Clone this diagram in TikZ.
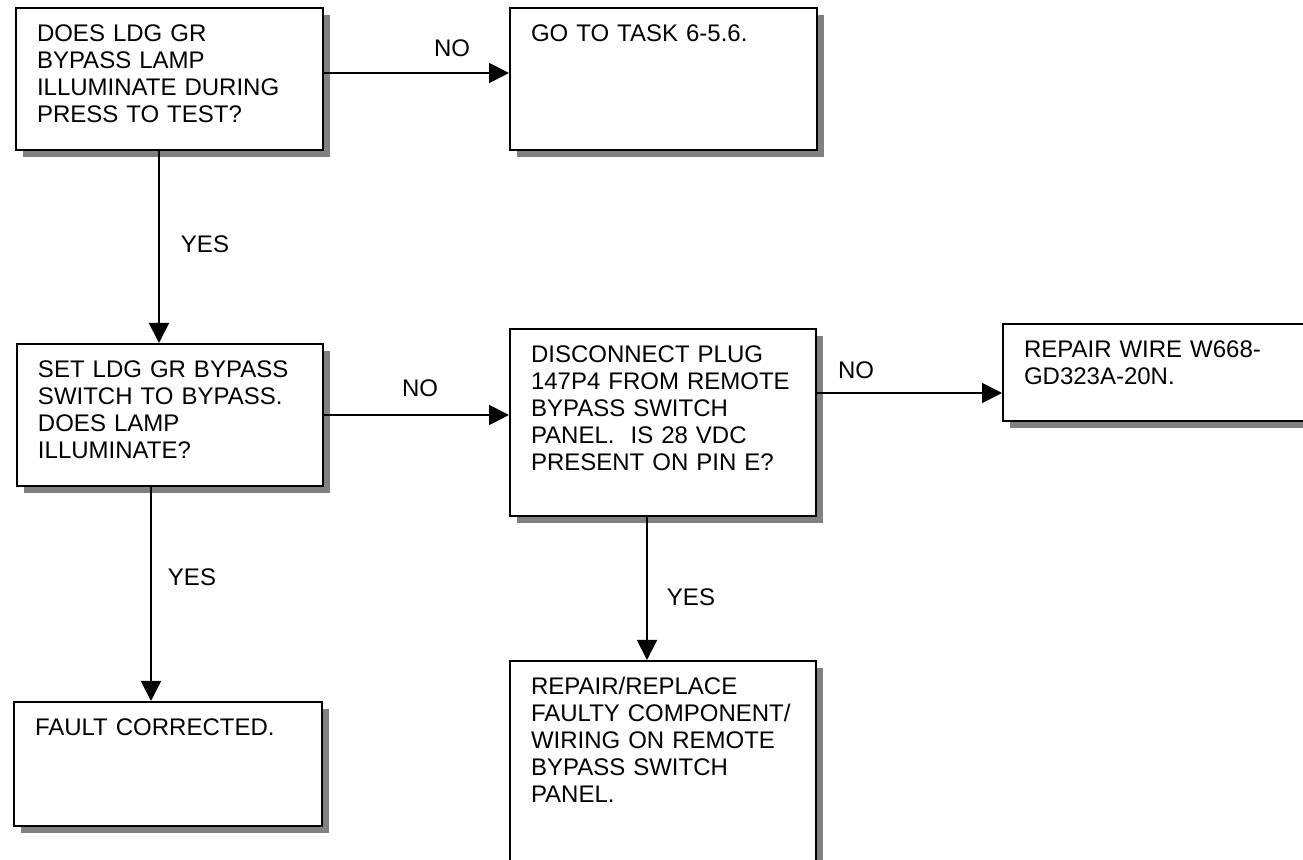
\documentclass[tikz,border=0pt]{standalone}
\usepackage{fontspec}
\setmainfont{Liberation Sans}
\usetikzlibrary{arrows.meta,shadows}
\definecolor{shadegray}{RGB}{128,128,128}

\begin{document}
\begin{tikzpicture}[font=\fontsize{12}{13.5}\selectfont,>={Triangle[length=10pt,width=10pt]},
 stepbox/.style={draw,line width=1pt,fill=white,anchor=north west,align=left,
 inner xsep=10.5pt,inner ysep=0pt,text height=17pt,
 drop shadow={shadow xshift=3.5pt,shadow yshift=-3.5pt,fill=shadegray,opacity=1}},
 arr/.style={->,line width=.9pt}]
\useasboundingbox (0,0) rectangle (651.5pt,-430pt);

\node[stepbox,text width=132.5pt,text depth=54pt] (press) at (7.5pt,-3.5pt)
 {DOES LDG GR\\BYPASS LAMP\\ILLUMINATE DURING\\PRESS TO TEST?};
\node[stepbox,text width=132.5pt,text depth=54pt] (task) at (254.5pt,-3.5pt)
 {GO TO TASK 6-5.6.};
\node[stepbox,text width=132pt,text depth=54pt] (bypass) at (8pt,-171.5pt)
 {SET LDG GR BYPASS\\SWITCH TO BYPASS.\\DOES LAMP\\ILLUMINATE?};
\node[stepbox,text width=132pt,text depth=76.5pt] (plug) at (254.5pt,-164pt)
 {DISCONNECT PLUG\\147P4 FROM REMOTE\\BYPASS SWITCH\\PANEL.\ \ IS 28 VDC\\PRESENT ON PIN E?};
\node[stepbox,text width=132pt,text depth=31.5pt] (wire) at (501pt,-161.5pt)
 {REPAIR WIRE W668-\\GD323A-20N.};
\node[stepbox,text width=132pt,text depth=93pt] (repair) at (254.5pt,-330pt)
 {REPAIR/REPLACE\\FAULTY COMPONENT/\\WIRING ON REMOTE\\BYPASS SWITCH\\PANEL.};
\node[stepbox,text width=133pt,text depth=45pt] (fixed) at (6.5pt,-350.5pt)
 {FAULT CORRECTED.};

\draw[arr] ([yshift=3pt]press.east) -- ([yshift=3pt]task.west);
\draw[arr] ([xshift=-5.25pt]press.south) -- ([xshift=-5.25pt]press.south |- bypass.north);
\draw[arr] (bypass.east) -- (bypass.east -| plug.west);
\draw[arr] ([yshift=14.75pt]plug.east) -- ([yshift=14.75pt]plug.east -| wire.west);
\draw[arr] ([xshift=-9.5pt]bypass.south) -- ([xshift=-9.5pt]bypass.south |- fixed.north);
\draw[arr] ([xshift=-8pt]plug.south) -- ([xshift=-8pt]plug.south |- repair.north);

\node (nopress) at (226pt,-24pt) {NO};
\node (yespress) at (102.5pt,-122pt) {YES};
\node (nobypass) at (210pt,-194pt) {NO};
\node (yesbypass) at (96pt,-288.5pt) {YES};
\node (noplug) at (428pt,-185pt) {NO};
\node (yesplug) at (345.5pt,-298.5pt) {YES};
\end{tikzpicture}
\end{document}
